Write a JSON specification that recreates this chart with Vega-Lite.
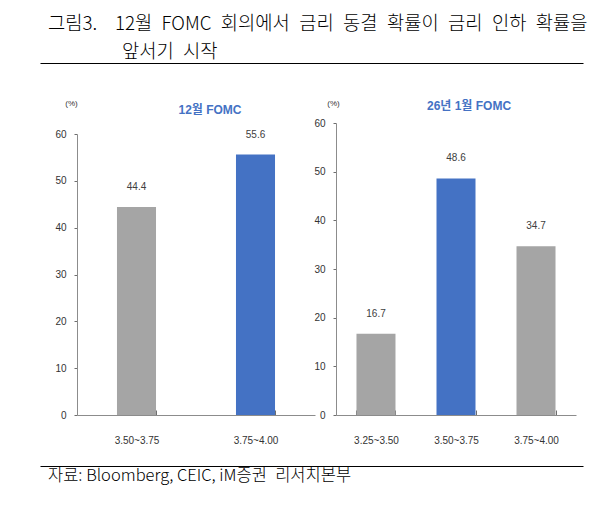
{
  "$schema": "https://vega.github.io/schema/vega-lite/v6.json",
  "background": "white",
  "padding": {"left": 40, "top": 15, "right": 10, "bottom": 10},
  "autosize": {"type": "pad"},
  "bounds": "flush",
  "spacing": 51,
  "config": {
    "view": {"stroke": null},
    "font": "Noto Sans CJK KR",
    "axis": {
      "labelFont": "Liberation Sans",
      "labelFontSize": 10,
      "labelColor": "#333333",
      "domainColor": "#8c8c8c",
      "tickColor": "#6e6e6e",
      "grid": false,
      "title": null
    }
  },
  "vconcat": [
    {
      "width": 543,
      "height": 9,
      "title": {
        "text": ["그림3.\u2002\u00a0\u00a012월\u2002FOMC\u2002회의에서\u2002금리\u2002동결\u2002확률이\u2002금리\u2002인하\u2002확률을", "\u200b\u3000\u3000\u3000\u2002\u00a0\u00a0앞서기\u2002시작"],
        "anchor": "start",
        "frame": "group",
        "dx": 8,
        "offset": 1,
        "fontSize": 18.75,
        "fontWeight": 300,
        "lineHeight": 28,
        "color": "#000000"
      },
      "data": {"values": [{"v": 0}]},
      "mark": {"type": "rule", "opacity": 0},
      "encoding": {
        "x": {
          "field": "v",
          "type": "quantitative",
          "scale": {"domain": [0, 1]},
          "axis": {"orient": "top", "domainColor": "#000000", "domainWidth": 1.2, "ticks": false, "labels": false}
        }
      }
    },
    {
      "bounds": "flush",
      "spacing": 21,
      "hconcat": [
        {
          "width": 16,
          "height": 292,
          "data": {"values": []},
          "mark": "text"
        },
        {
          "width": 238,
          "height": 292,
          "title": {
            "text": "12월 FOMC",
            "frame": "group",
            "anchor": "middle",
            "dx": 14,
            "dy": 39,
            "offset": 16,
            "baseline": "middle",
            "font": "Liberation Sans, Noto Sans CJK KR",
            "fontSize": 12,
            "fontWeight": "bold",
            "color": "#4472c4"
          },
          "data": {
            "values": [
              {"rate": "3.50~3.75", "prob": 44.4, "most_likely": "no"},
              {"rate": "3.75~4.00", "prob": 55.6, "most_likely": "yes"}
            ]
          },
          "encoding": {
            "x": {
              "field": "rate",
              "type": "nominal",
              "sort": null,
              "scale": {"paddingInner": 0.672, "paddingOuter": 0.336},
              "axis": {"labelAngle": 0, "tickBand": "extent", "tickSize": -5, "labelPadding": 25}
            },
            "y": {
              "field": "prob",
              "type": "quantitative",
              "scale": {"domain": [0, 60], "range": [292, 11]},
              "axis": {
                "values": [0, 10, 20, 30, 40, 50, 60],
                "tickSize": 3,
                "labelPadding": 8,
                "title": "(%)",
                "titleAngle": 0,
                "titleX": -6,
                "titleY": -20,
                "titleAlign": "center",
                "titleBaseline": "middle",
                "titleFont": "Liberation Sans",
                "titleFontSize": 8,
                "titleFontWeight": "normal",
                "titleColor": "#333333"
              }
            }
          },
          "layer": [
            {
              "mark": {"type": "bar"},
              "encoding": {
                "color": {
                  "field": "most_likely",
                  "type": "nominal",
                  "scale": {"domain": ["yes", "no"], "range": ["#4472c4", "#a5a5a5"]},
                  "legend": null
                }
              }
            },
            {
              "mark": {
                "type": "text",
                "dy": -20,
                "baseline": "middle",
                "font": "Liberation Sans",
                "fontSize": 10,
                "color": "#404040"
              },
              "encoding": {"text": {"field": "prob", "type": "quantitative", "format": ".1f"}}
            }
          ]
        },
        {
          "width": 240,
          "height": 292,
          "title": {
            "text": "26년 1월 FOMC",
            "frame": "group",
            "anchor": "middle",
            "dx": 13,
            "dy": 38.5,
            "offset": 19.5,
            "baseline": "middle",
            "font": "Liberation Sans, Noto Sans CJK KR",
            "fontSize": 12,
            "fontWeight": "bold",
            "color": "#4472c4"
          },
          "data": {
            "values": [
              {"rate": "3.25~3.50", "prob": 16.7, "most_likely": "no"},
              {"rate": "3.50~3.75", "prob": 48.6, "most_likely": "yes"},
              {"rate": "3.75~4.00", "prob": 34.7, "most_likely": "no"}
            ]
          },
          "encoding": {
            "x": {
              "field": "rate",
              "type": "nominal",
              "sort": null,
              "scale": {"paddingInner": 0.5125, "paddingOuter": 0.256},
              "axis": {"labelAngle": 0, "tickBand": "extent", "tickSize": -5, "labelPadding": 25}
            },
            "y": {
              "field": "prob",
              "type": "quantitative",
              "scale": {"domain": [0, 60]},
              "axis": {
                "values": [0, 10, 20, 30, 40, 50, 60],
                "tickSize": 3,
                "labelPadding": 8,
                "title": "(%)",
                "titleAngle": 0,
                "titleX": -3,
                "titleY": -20,
                "titleAlign": "center",
                "titleBaseline": "middle",
                "titleFont": "Liberation Sans",
                "titleFontSize": 8,
                "titleFontWeight": "normal",
                "titleColor": "#333333"
              }
            }
          },
          "layer": [
            {
              "mark": {"type": "bar"},
              "encoding": {
                "color": {
                  "field": "most_likely",
                  "type": "nominal",
                  "scale": {"domain": ["yes", "no"], "range": ["#4472c4", "#a5a5a5"]},
                  "legend": null
                }
              }
            },
            {
              "mark": {
                "type": "text",
                "dy": -20,
                "baseline": "middle",
                "font": "Liberation Sans",
                "fontSize": 10,
                "color": "#404040"
              },
              "encoding": {"text": {"field": "prob", "type": "quantitative", "format": ".1f"}}
            }
          ]
        }
      ]
    },
    {
      "width": 543,
      "height": 292,
      "title": {
        "text": "자료: Bloomberg, CEIC, iM증권\u2002리서치본부",
        "orient": "bottom",
        "anchor": "start",
        "frame": "group",
        "dx": 8,
        "offset": 10,
        "baseline": "middle",
        "fontSize": 16.5,
        "fontWeight": 300,
        "color": "#000000"
      },
      "data": {"values": [{"v": 0}]},
      "mark": {"type": "rule", "opacity": 0},
      "encoding": {
        "x": {
          "field": "v",
          "type": "quantitative",
          "scale": {"domain": [0, 1]},
          "axis": {"orient": "bottom", "domainColor": "#000000", "domainWidth": 1.2, "ticks": false, "labels": false}
        }
      }
    }
  ]
}
